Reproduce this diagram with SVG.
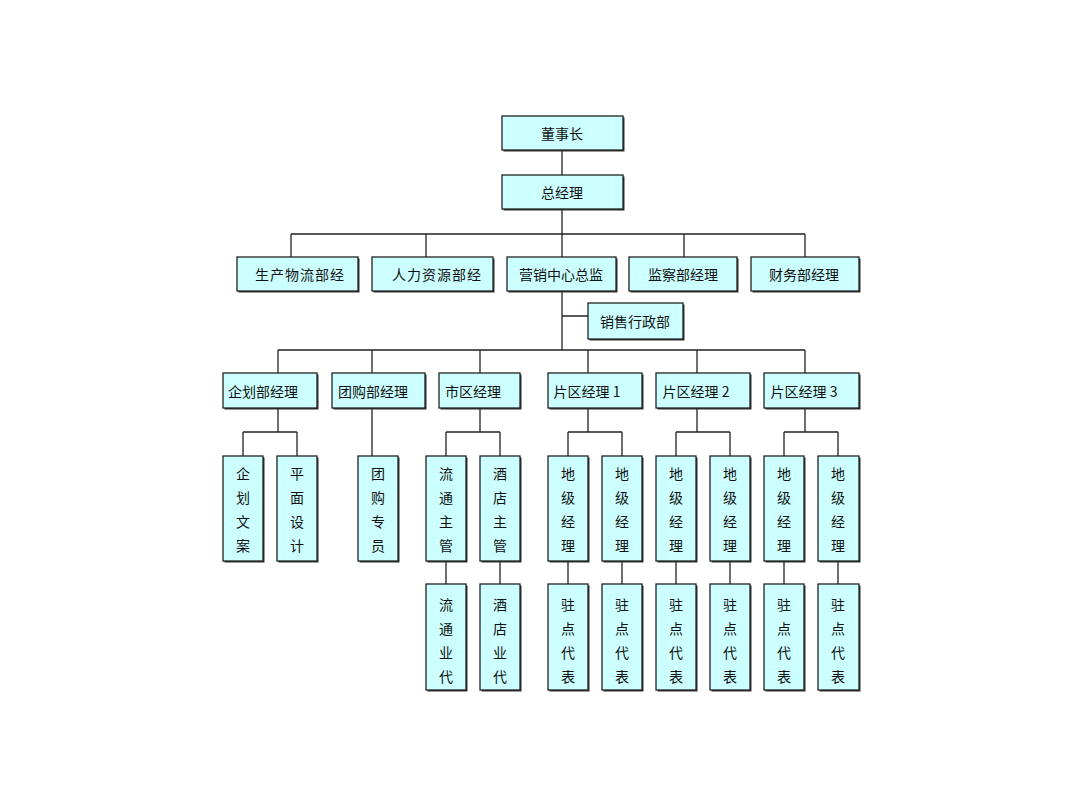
<svg xmlns="http://www.w3.org/2000/svg" width="1080" height="810" viewBox="0 0 1080 810">
<style>
.b{fill:#ccffff;stroke:#222;stroke-width:1.3}
.s{fill:#333}
text{font-family:"Noto Sans CJK SC","Liberation Sans",sans-serif;font-size:14px;fill:#111;text-anchor:middle;dominant-baseline:central}
.c{fill:none;stroke:#222;stroke-width:1.3}
</style>
<rect width="1080" height="810" fill="#fff"/>
<g id="connectors" class="c">
<path d="M562 150V175M562 209V234M291 234H805M291 234V257M426 234V257M562 234V257M684 234V257M805 234V257"/>
<path d="M562 291V350M562 316H588M278 350H805M278 350V373M372 350V373M480 350V373M588 350V373M697 350V373M805 350V373"/>
<path d="M278 408V432M243 432H297M243 432V456M297 432V456"/>
<path d="M372 408V456"/>
<path d="M480 408V432M446 432H500M446 432V456M500 432V456M446 561V584M500 561V584"/>
<path d="M588 408V432M568 432H622M568 432V456M622 432V456M568 561V584M622 561V584"/>
<path d="M697 408V432M676 432H730M676 432V456M730 432V456M676 561V584M730 561V584"/>
<path d="M805 408V432M784 432H838M784 432V456M838 432V456M784 561V584M838 561V584"/>
</g>
<g id="n1"><rect class="s" x="503.5" y="117.5" width="121" height="34"/><rect class="b" x="502" y="116" width="121" height="34"/><text x="562" y="133">董事长</text></g>
<g id="n2"><rect class="s" x="503.5" y="176.5" width="121" height="34"/><rect class="b" x="502" y="175" width="121" height="34"/><text x="562" y="192">总经理</text></g>
<g id="n3"><rect class="s" x="238.5" y="258.5" width="121" height="34"/><rect class="b" x="237" y="257" width="121" height="34"/><text x="300" y="274" letter-spacing="1">生产物流部经</text></g>
<g id="n4"><rect class="s" x="373.5" y="258.5" width="121" height="34"/><rect class="b" x="372" y="257" width="121" height="34"/><text x="437" y="274" letter-spacing="1">人力资源部经</text></g>
<g id="n5"><rect class="s" x="508.5" y="258.5" width="109" height="34"/><rect class="b" x="507" y="257" width="109" height="34"/><text x="561" y="274">营销中心总监</text></g>
<g id="n6"><rect class="s" x="630.5" y="258.5" width="108" height="34"/><rect class="b" x="629" y="257" width="108" height="34"/><text x="683" y="274">监察部经理</text></g>
<g id="n7"><rect class="s" x="752.5" y="258.5" width="108" height="34"/><rect class="b" x="751" y="257" width="108" height="34"/><text x="804" y="274">财务部经理</text></g>
<g id="n8"><rect class="s" x="589.5" y="304.5" width="95" height="36"/><rect class="b" x="588" y="303" width="95" height="36"/><text x="635" y="321" font-size="13">销售行政部</text></g>
<g id="n9"><rect class="s" x="224.5" y="374.5" width="94" height="35"/><rect class="b" x="223" y="373" width="94" height="35"/><text x="263" y="391">企划部经理</text></g>
<g id="n10"><rect class="s" x="333.5" y="374.5" width="93" height="35"/><rect class="b" x="332" y="373" width="93" height="35"/><text x="373" y="391">团购部经理</text></g>
<g id="n11"><rect class="s" x="440.5" y="374.5" width="81" height="35"/><rect class="b" x="439" y="373" width="81" height="35"/><text x="473" y="391">市区经理</text></g>
<g id="n12"><rect class="s" x="549.5" y="374.5" width="94" height="35"/><rect class="b" x="548" y="373" width="94" height="35"/><text x="587" y="391">片区经理 1</text></g>
<g id="n13"><rect class="s" x="657.5" y="374.5" width="94" height="35"/><rect class="b" x="656" y="373" width="94" height="35"/><text x="696" y="391">片区经理 2</text></g>
<g id="n14"><rect class="s" x="765.5" y="374.5" width="95" height="35"/><rect class="b" x="764" y="373" width="95" height="35"/><text x="804" y="391">片区经理 3</text></g>
<g id="v1"><rect class="s" x="224.5" y="457.5" width="40" height="105"/><rect class="b" x="223" y="456" width="40" height="105"/><text x="243" y="473">企</text><text x="243" y="497">划</text><text x="243" y="521">文</text><text x="243" y="545">案</text></g>
<g id="v2"><rect class="s" x="278.5" y="457.5" width="40" height="105"/><rect class="b" x="277" y="456" width="40" height="105"/><text x="297" y="473">平</text><text x="297" y="497">面</text><text x="297" y="521">设</text><text x="297" y="545">计</text></g>
<g id="v3"><rect class="s" x="359.5" y="457.5" width="40" height="105"/><rect class="b" x="358" y="456" width="40" height="105"/><text x="378" y="473">团</text><text x="378" y="497">购</text><text x="378" y="521">专</text><text x="378" y="545">员</text></g>
<g id="v4"><rect class="s" x="427.5" y="457.5" width="40" height="105"/><rect class="b" x="426" y="456" width="40" height="105"/><text x="446" y="473">流</text><text x="446" y="497">通</text><text x="446" y="521">主</text><text x="446" y="545">管</text></g>
<g id="v5"><rect class="s" x="481.5" y="457.5" width="40" height="105"/><rect class="b" x="480" y="456" width="40" height="105"/><text x="500" y="473">酒</text><text x="500" y="497">店</text><text x="500" y="521">主</text><text x="500" y="545">管</text></g>
<g id="v6"><rect class="s" x="427.5" y="585.5" width="40" height="106"/><rect class="b" x="426" y="584" width="40" height="106"/><text x="446" y="604">流</text><text x="446" y="628">通</text><text x="446" y="652">业</text><text x="446" y="676">代</text></g>
<g id="v7"><rect class="s" x="481.5" y="585.5" width="40" height="106"/><rect class="b" x="480" y="584" width="40" height="106"/><text x="500" y="604">酒</text><text x="500" y="628">店</text><text x="500" y="652">业</text><text x="500" y="676">代</text></g>
<g id="v8"><rect class="s" x="549.5" y="457.5" width="40" height="105"/><rect class="b" x="548" y="456" width="40" height="105"/><text x="568" y="473">地</text><text x="568" y="497">级</text><text x="568" y="521">经</text><text x="568" y="545">理</text></g>
<g id="v9"><rect class="s" x="603.5" y="457.5" width="40" height="105"/><rect class="b" x="602" y="456" width="40" height="105"/><text x="622" y="473">地</text><text x="622" y="497">级</text><text x="622" y="521">经</text><text x="622" y="545">理</text></g>
<g id="v10"><rect class="s" x="657.5" y="457.5" width="40" height="105"/><rect class="b" x="656" y="456" width="40" height="105"/><text x="676" y="473">地</text><text x="676" y="497">级</text><text x="676" y="521">经</text><text x="676" y="545">理</text></g>
<g id="v11"><rect class="s" x="711.5" y="457.5" width="40" height="105"/><rect class="b" x="710" y="456" width="40" height="105"/><text x="730" y="473">地</text><text x="730" y="497">级</text><text x="730" y="521">经</text><text x="730" y="545">理</text></g>
<g id="v12"><rect class="s" x="765.5" y="457.5" width="40" height="105"/><rect class="b" x="764" y="456" width="40" height="105"/><text x="784" y="473">地</text><text x="784" y="497">级</text><text x="784" y="521">经</text><text x="784" y="545">理</text></g>
<g id="v13"><rect class="s" x="819.5" y="457.5" width="41" height="105"/><rect class="b" x="818" y="456" width="41" height="105"/><text x="838" y="473">地</text><text x="838" y="497">级</text><text x="838" y="521">经</text><text x="838" y="545">理</text></g>
<g id="v14"><rect class="s" x="549.5" y="585.5" width="40" height="106"/><rect class="b" x="548" y="584" width="40" height="106"/><text x="568" y="604">驻</text><text x="568" y="628">点</text><text x="568" y="652">代</text><text x="568" y="676">表</text></g>
<g id="v15"><rect class="s" x="603.5" y="585.5" width="40" height="106"/><rect class="b" x="602" y="584" width="40" height="106"/><text x="622" y="604">驻</text><text x="622" y="628">点</text><text x="622" y="652">代</text><text x="622" y="676">表</text></g>
<g id="v16"><rect class="s" x="657.5" y="585.5" width="40" height="106"/><rect class="b" x="656" y="584" width="40" height="106"/><text x="676" y="604">驻</text><text x="676" y="628">点</text><text x="676" y="652">代</text><text x="676" y="676">表</text></g>
<g id="v17"><rect class="s" x="711.5" y="585.5" width="40" height="106"/><rect class="b" x="710" y="584" width="40" height="106"/><text x="730" y="604">驻</text><text x="730" y="628">点</text><text x="730" y="652">代</text><text x="730" y="676">表</text></g>
<g id="v18"><rect class="s" x="765.5" y="585.5" width="40" height="106"/><rect class="b" x="764" y="584" width="40" height="106"/><text x="784" y="604">驻</text><text x="784" y="628">点</text><text x="784" y="652">代</text><text x="784" y="676">表</text></g>
<g id="v19"><rect class="s" x="819.5" y="585.5" width="41" height="106"/><rect class="b" x="818" y="584" width="41" height="106"/><text x="838" y="604">驻</text><text x="838" y="628">点</text><text x="838" y="652">代</text><text x="838" y="676">表</text></g>
</svg>
